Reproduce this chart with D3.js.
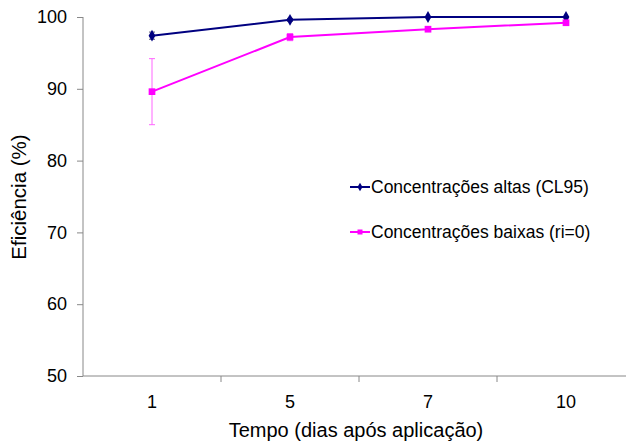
<!DOCTYPE html>
<html>
<head>
<meta charset="utf-8">
<script src="https://cdn.jsdelivr.net/npm/d3@7"></script>
<style>
  body { margin: 0; background: #fff; }
  text { font-family: "Liberation Sans", Arial, sans-serif; fill: #000; }
</style>
</head>
<body>
<svg width="626" height="443"></svg>
<script>
// data
var dias = ["1", "5", "7", "10"];
var altas = [97.4, 99.6, 100.0, 100.0];
var altasErro = [0.5, 0.2, 0.1, 0.1];
var baixas = [89.6, 97.2, 98.3, 99.2];
var baixasErro = [4.6, 0.5, 0.3, 0.2];
var yTicks = [50, 60, 70, 80, 90, 100];

var svg = d3.select("svg");

var xs = d3.scaleBand().domain(dias).range([83, 635]);
var ys = d3.scaleLinear().domain([50, 100]).range([376, 17]);

// y axis
var yAxis = svg.append("g")
    .attr("transform", "translate(83,0)")
    .call(d3.axisLeft(ys).tickValues(yTicks).tickSize(6).tickPadding(10));
yAxis.selectAll("text").style("font-size", "18px");

// x axis, ticks on the band edges
var xAxis = svg.append("g")
    .attr("transform", "translate(0,376)")
    .call(d3.axisBottom(xs).tickSize(0).tickPadding(19));
xAxis.selectAll("text").style("font-size", "18px");
xAxis.selectAll(".edge")
    .data(dias.slice(1))
    .enter().append("line")
    .attr("x1", function(d) { return xs(d); })
    .attr("x2", function(d) { return xs(d); })
    .attr("y1", 0).attr("y2", 6);

svg.selectAll(".domain, .tick line").attr("stroke", "#888");
xAxis.selectAll("line").attr("stroke", "#888");
yAxis.select(".domain").attr("d", "M0,17V376");
xAxis.select(".domain").attr("d", "M83,0H626");

svg.append("text")
    .attr("x", 356).attr("y", 437)
    .attr("text-anchor", "middle")
    .style("font-size", "20px")
    .text("Tempo (dias após aplicação)");

svg.append("text")
    .attr("transform", "translate(26,197) rotate(-90)")
    .attr("text-anchor", "middle")
    .style("font-size", "20.5px")
    .text("Eficiência (%)");

function cx(d) { return xs(d) + xs.bandwidth() / 2; }

function serie(vals, erros, cor, corErro, simbolo, tam) {
    var pts = dias.map(function(d, i) { return { d: d, v: vals[i], e: erros[i] }; });
    var g = svg.append("g");
    // error bars
    var eb = g.selectAll(".eb").data(pts).enter().append("g").attr("stroke", corErro).attr("stroke-width", 1);
    eb.append("line")
        .attr("x1", function(p) { return cx(p.d); }).attr("x2", function(p) { return cx(p.d); })
        .attr("y1", function(p) { return ys(Math.min(100, p.v + p.e)); })
        .attr("y2", function(p) { return ys(p.v - p.e); });
    eb.append("line")
        .attr("x1", function(p) { return cx(p.d) - 3; }).attr("x2", function(p) { return cx(p.d) + 3; })
        .attr("y1", function(p) { return ys(Math.min(100, p.v + p.e)); })
        .attr("y2", function(p) { return ys(Math.min(100, p.v + p.e)); });
    eb.append("line")
        .attr("x1", function(p) { return cx(p.d) - 3; }).attr("x2", function(p) { return cx(p.d) + 3; })
        .attr("y1", function(p) { return ys(p.v - p.e); })
        .attr("y2", function(p) { return ys(p.v - p.e); });
    g.append("path")
        .datum(pts)
        .attr("fill", "none")
        .attr("stroke", cor)
        .attr("stroke-width", 2)
        .attr("d", d3.line().x(function(p) { return cx(p.d); }).y(function(p) { return ys(p.v); }));
    g.selectAll(".pt").data(pts).enter().append("path")
        .attr("transform", function(p) { return "translate(" + cx(p.d) + "," + ys(p.v) + ")"; })
        .attr("d", d3.symbol().type(simbolo).size(tam))
        .attr("fill", cor);
}

serie(altas, altasErro, "#000080", "#555577", d3.symbolDiamond, 40);
serie(baixas, baixasErro, "#ff00ff", "#ff66ff", d3.symbolSquare, 45);

// legend
var legenda = [
    { nome: "Concentrações altas (CL95)", cor: "#000080", s: d3.symbolDiamond, t: 22, y: 187 },
    { nome: "Concentrações baixas (ri=0)", cor: "#ff00ff", s: d3.symbolSquare, t: 25, y: 232 }
];
var lg = svg.selectAll(".lg").data(legenda).enter().append("g");
lg.append("line")
    .attr("x1", 350).attr("x2", 370)
    .attr("y1", function(d) { return d.y; }).attr("y2", function(d) { return d.y; })
    .attr("stroke", function(d) { return d.cor; }).attr("stroke-width", 2);
lg.append("path")
    .attr("transform", function(d) { return "translate(360," + d.y + ")"; })
    .attr("d", function(d) { return d3.symbol().type(d.s).size(d.t)(); })
    .attr("fill", function(d) { return d.cor; });
lg.append("text")
    .attr("x", 371).attr("y", function(d) { return d.y + 6; })
    .style("font-size", "17.5px")
    .text(function(d) { return d.nome; });
</script>
</body>
</html>
